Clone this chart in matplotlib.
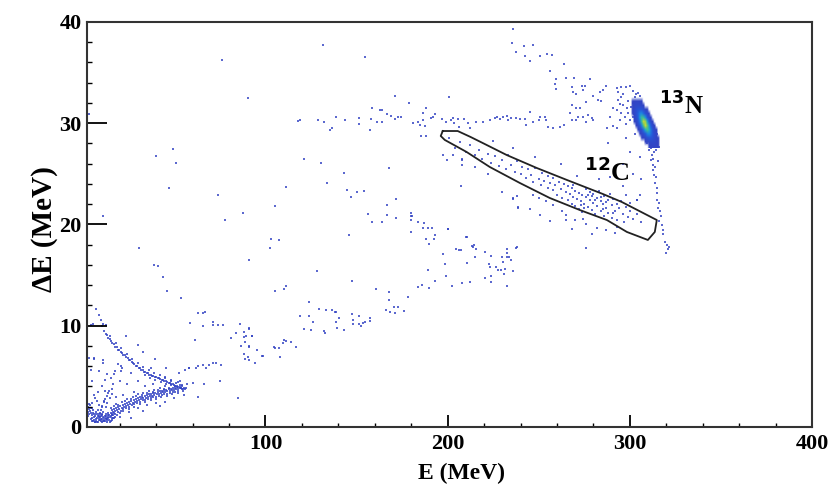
import numpy as np
import matplotlib
matplotlib.use('Agg')
import matplotlib.pyplot as plt
from matplotlib.colors import LinearSegmentedColormap
from matplotlib.ticker import MultipleLocator

plt.rcParams['font.family'] = ['Liberation Serif', 'DejaVu Serif']
plt.rcParams['font.weight'] = 'bold'

# ---- data: (E [MeV], dE [MeV]) ----

# dense low-energy cluster near the origin
low_cluster = [
    (3.5, 1.6), (4, 1.9), (4.5, 1.2), (5, 0.9), (5.5, 1.4), (6, 0.7), (6.5, 1.1), (7, 0.6),
    (7.5, 0.9), (8, 1.3), (8.5, 0.7), (9, 1.0), (9.5, 0.6), (10, 1.2), (10.5, 0.8), (11, 1.5),
    (11.5, 0.9), (12, 0.6), (12.5, 1.1), (13, 0.8), (13.5, 1.4), (14, 0.7), (14.5, 1.0), (15, 0.6),
    (3, 1.8), (3.2, 1.3), (4.2, 0.8), (5.2, 1.7), (6.2, 0.5), (7.2, 1.3), (8.2, 0.5), (9.2, 1.4),
    (10.2, 0.5), (11.2, 0.7), (12.2, 1.3), (13.2, 0.5), (14.2, 1.2), (15.5, 0.9), (16, 0.7),
    (16.5, 1.2), (17, 0.9), (6.8, 0.8), (7.8, 1.1), (8.8, 0.9), (9.8, 0.8), (10.8, 1.0),
    (11.8, 1.1), (12.8, 0.7), (13.8, 0.9), (5.8, 1.0), (4.8, 0.6), (2.5, 1.5), (2.5, 2.0),
    (3.5, 2.2), (4.5, 2.4), (9, 1.3), (9.8, 1.7), (10.5, 2.1), (11.2, 2.5), (12, 2.8),
    (12.8, 3.1), (13.5, 3.4), (14, 3.6), (10, 2.0), (11.6, 2.6),
    (5.5, 0.6), (6.5, 0.5), (7.5, 0.5), (8.5, 1.1), (9.5, 1.1), (10.5, 1.3), (11.5, 0.6),
    (12.5, 0.8), (13.5, 1.0), (14.5, 0.5), (15.5, 1.3), (16.5, 0.9), (17.5, 1.0), (18.5, 1.2),
    (7, 1.5), (8, 1.7), (6, 1.3), (5, 1.9), (4, 1.4), (3, 2.3), (2.6, 1.1), (9.3, 0.7),
    (10.7, 0.6), (12.3, 0.9), (13.7, 1.2), (15.2, 1.1), (16.8, 1.4), (8.7, 2.2), (7.6, 2.6),
    (6.6, 2.9), (12.4, 2.0), (13.2, 2.4), (14.6, 2.9), (15.6, 3.8), (16.4, 4.2), (11.9, 3.6),
]

# main low band (stopped particles)
low_band = [
    (15, 1.4), (15.6, 1.7), (16.2, 1.5), (16.8, 1.8), (17.4, 1.6), (18, 1.9), (18.6, 1.7),
    (19.2, 2.0), (19.8, 1.8), (20.4, 2.1), (21, 1.9), (21.6, 2.2), (22.2, 2.0), (22.8, 2.3),
    (23.4, 2.1), (24, 2.4), (24.6, 2.2), (25.2, 2.5), (25.8, 2.3), (26.4, 2.6), (27, 2.4),
    (27.6, 2.7), (28.2, 2.5), (28.8, 2.8), (29.4, 2.6), (30, 2.9), (30.6, 2.7), (31.2, 2.95),
    (31.8, 2.8), (32.4, 3.0), (33, 2.85), (33.6, 3.1), (34.2, 2.9), (34.8, 3.15), (35.4, 3.0),
    (36, 3.25), (36.6, 3.05), (37.2, 3.3), (37.8, 3.1), (38.4, 3.35), (39, 3.2), (39.6, 3.4),
    (40.2, 3.25), (40.8, 3.5), (41.4, 3.3), (42, 3.55), (42.6, 3.4), (43.2, 3.6), (43.8, 3.45),
    (44.4, 3.65), (45, 3.5), (45.6, 3.7), (46.2, 3.55), (46.8, 3.75), (47.4, 3.6), (48, 3.8),
    (48.6, 3.65), (49.2, 3.85), (49.8, 3.7), (50.4, 3.9), (51, 3.75), (51.6, 3.95), (52.2, 3.8),
    (52.8, 3.95), (53.4, 3.85), (54, 4.0), (54.6, 3.8), (55.2, 3.9), (55.8, 3.75),
    (16, 1.2), (17.5, 1.3), (19, 1.5), (20.5, 1.6), (22, 1.8), (23.5, 1.9), (25, 2.0),
    (26.5, 2.2), (28, 2.3), (29.5, 2.4), (31, 2.5), (32.5, 2.7), (34, 2.7), (35.5, 2.8),
    (37, 2.9), (38.5, 3.0), (40, 3.0), (41.5, 3.1), (43, 3.2), (44.5, 3.3), (46, 3.3),
    (47.5, 3.4), (49, 3.5), (50.5, 3.5), (52, 3.6), (18, 2.3), (21, 2.5), (24, 2.8), (27, 3.0),
    (30, 3.3), (33, 3.4), (36, 3.6), (39, 3.7), (42, 3.9), (45, 4.0), (48, 4.1),
    (15.3, 1.9), (17.1, 2.1), (18.9, 2.2), (20.1, 1.4), (21.9, 1.6), (23.1, 2.6), (24.9, 1.8),
    (26.1, 2.8), (27.9, 2.0), (29.1, 3.1), (30.9, 2.3), (32.1, 3.2), (33.9, 2.5), (35.1, 3.4),
    (36.9, 2.7), (38.1, 3.5), (39.9, 2.8), (41.1, 3.7), (42.9, 3.0), (44.1, 3.8), (45.9, 3.1),
    (47.1, 3.9), (48.9, 3.3), (50.1, 4.0), (51.9, 3.4), (53.1, 4.1), (54.9, 3.6), (56.4, 3.85),
]

# punch-through branch going up-left
punch_arm = [
    (11.5, 9.5), (12.3, 9.2), (13, 9.1), (13.8, 8.8), (14.5, 8.7), (15.3, 8.5), (16, 8.3),
    (16.8, 8.2), (17.5, 7.9), (18.3, 7.9), (19, 7.6), (19.8, 7.6), (20.5, 7.4), (21.3, 7.3),
    (22, 7.1), (22.8, 7.1), (23.5, 6.9), (24.3, 6.8), (25, 6.6), (25.8, 6.6), (26.5, 6.4),
    (27.3, 6.3), (28, 6.2), (28.8, 6.0), (29.5, 6.0), (30.3, 5.8), (31, 5.8), (31.8, 5.6),
    (32.5, 5.6), (33.3, 5.4), (34, 5.4), (34.8, 5.3), (35.5, 5.3), (36.3, 5.1), (37, 5.1),
    (37.8, 5.0), (38.5, 5.0), (39.3, 4.9), (40, 4.9), (40.8, 4.8), (41.5, 4.8), (42.3, 4.7),
    (43, 4.6), (43.8, 4.6), (44.5, 4.5), (45.3, 4.5), (46, 4.4), (46.8, 4.3), (47.5, 4.3),
    (48.3, 4.2), (49, 4.2), (49.8, 4.1), (50.5, 4.05), (51.3, 4.0), (52, 3.95), (52.8, 3.9),
    (53.5, 3.85), (54.3, 3.8), (7, 11.7), (8.8, 11.1), (9.5, 10.6), (4.3, 10.1), (12.5, 10.1),
    (5.5, 10.2), (11, 10.2), (10, 10.0),
    (14.9, 9.0), (17.9, 8.3), (20.9, 7.8), (23.9, 7.2), (26.9, 6.7), (29.9, 6.3), (32.9, 5.9),
    (35.9, 5.6), (38.9, 5.3), (41.9, 5.1), (44.9, 4.8), (47.9, 4.6), (50.9, 4.3), (53.9, 4.1),
    (33.6, 5.1), (36.6, 4.8), (39.6, 4.6), (42.6, 4.4), (45.6, 4.2),
]

# loose events around the low-energy structures
low_scatter = [
    (20, 1.0), (25, 1.5), (30, 1.9), (35, 2.2), (40, 2.4), (45, 2.5), (50, 2.9), (26, 0.9),
    (33, 1.6), (42, 2.1), (55, 3.2), (52, 4.4), (48, 4.5), (38, 4.2), (28, 3.5), (22, 3.2),
    (18, 3.0), (16, 3.3), (24, 4.2), (20, 4.5), (17, 5.2), (19, 6.2), (21, 5.8), (15, 4.8),
    (13, 5.2), (10, 4.0), (8, 3.5), (6, 3.2), (5, 4.5), (4, 5.6), (3, 6.8), (6, 6.7), (8.5, 5.5),
    (11, 6.3), (12, 4.6), (26, 5.3), (30, 4.5), (34, 4.0), (37, 5.8), (45, 4.9), (53, 4.5),
    (57, 4.2), (60, 4.3), (62, 5.8), (58, 5.8), (62.8, 3.0), (20.7, 6.0), (20.7, 5.5),
    (17.6, 5.5), (45.4, 5.8), (52.7, 5.3), (56.0, 5.6), (58.2, 5.8), (6.0, 6.8), (10.6, 6.6),
    (23.5, 9.0), (30.2, 8.1), (32.6, 7.4), (39.6, 6.7), (43.6, 14.8), (45.9, 13.4),
    (53.7, 12.7), (38.6, 16.0), (41.2, 15.9), (30.4, 17.7), (10.6, 20.8),
]

# sparse events in the middle of the plane
mid_scatter = [
    (58.6, 10.3), (61.4, 8.6), (62.8, 11.3), (65.9, 11.3), (66.9, 11.4), (65.9, 10.0),
    (71.0, 10.4), (71.0, 10.1), (74.2, 10.1), (76.5, 10.1), (62.8, 6.0), (65.5, 6.1),
    (67.4, 5.8), (69.2, 6.1), (71.0, 6.3), (72.9, 6.35), (75.7, 6.1), (75.1, 4.5), (66.1, 4.25),
    (84.8, 2.9), (81.2, 8.8), (83.9, 9.25), (86.1, 10.2), (88.0, 9.4), (89.4, 9.0), (88.3, 8.9),
    (88.5, 8.4), (86.7, 8.0), (90.7, 8.0), (90.7, 7.9), (90.8, 9.7), (92.5, 9.0), (88.1, 7.2),
    (88.5, 6.7), (90.5, 6.9), (91.2, 6.6), (95.2, 7.6), (97.9, 7.0), (98.5, 7.05), (94.3, 6.35),
    (91.2, 9.75), (92.7, 9.0), (104.4, 7.9), (105.1, 7.8), (107.3, 7.8), (109.5, 8.3),
    (107.7, 6.9), (111.4, 8.5), (114.1, 8.4), (116.5, 7.9), (110.3, 8.6), (105.3, 13.45),
    (109.9, 13.6), (111.4, 13.9), (102.2, 17.65), (107.3, 18.5), (103.1, 18.6), (105.3, 21.8),
    (78.0, 20.4), (87.5, 21.1), (90.7, 16.5), (111.0, 23.7), (47.3, 23.6), (73.8, 22.9),
    (39.9, 26.8), (49.1, 27.5), (50.9, 26.1), (76.2, 36.2), (90.3, 32.5), (3.0, 30.9),
    (118.1, 30.2), (121.4, 26.5), (130.6, 26.1), (143.0, 25.1), (133.7, 24.1),
    (123.8, 12.3), (129.5, 11.7), (136.3, 11.6), (138.8, 11.4), (140.3, 10.8), (138.5, 10.4),
    (119.1, 11.0), (126.0, 10.4), (121.1, 9.7), (125.1, 9.6), (131.9, 9.5), (132.6, 9.25),
    (139.2, 9.8), (142.9, 9.6), (147.6, 11.2), (148.0, 10.6), (148.0, 10.2), (151.6, 11.0),
    (151.3, 10.2), (152.6, 10.0), (153.5, 10.3), (154.4, 10.4), (157.1, 10.8), (157.5, 10.5),
    (128.4, 15.4), (145.8, 19.0), (147.4, 14.4), (123.8, 11.0), (133.4, 11.6), (137.9, 11.4),
    (160.4, 13.6), (167.7, 13.3), (167.7, 12.5), (166.3, 11.6), (168.1, 11.4), (170.3, 11.9),
    (172.7, 11.9), (170.9, 11.3), (175.8, 11.5), (178.4, 12.8), (183.9, 13.8), (186.1, 14.0),
    (189.7, 13.7), (189.4, 15.5), (193.2, 14.4), (199.3, 14.9), (202.6, 13.9), (208.1, 14.2),
    (212.5, 14.3), (210.8, 16.2), (198.5, 16.1), (197.4, 17.1), (204.8, 17.6), (206.2, 17.5),
    (207.1, 17.5), (213.4, 17.9), (214.3, 18.0), (215.8, 17.6), (214.8, 16.8), (220.3, 17.3),
    (224.0, 16.9), (222.7, 16.1), (223.5, 15.8), (226.8, 15.8), (227.6, 15.5), (229.5, 15.5),
    (230.4, 16.3), (230.1, 16.8), (232.3, 16.8), (233.7, 16.8), (235.0, 16.5), (232.3, 17.2),
    (232.3, 17.6), (231.7, 15.6), (235.9, 15.4), (230.9, 15.1), (224.0, 14.9), (220.3, 14.7),
    (224.0, 14.3), (232.3, 13.9), (238.1, 17.8), (235.9, 22.5), (238.5, 21.6),
    (171.8, 22.5), (166.5, 21.9), (166.9, 20.9), (164.1, 20.2), (171.8, 20.6), (180.1, 21.1),
    (179.7, 20.8), (180.4, 20.8), (179.8, 20.4), (183.7, 20.2), (186.4, 19.7), (189.2, 19.7),
    (191.6, 19.7), (187.0, 20.1), (193.2, 19.0), (192.3, 18.6), (187.9, 18.6), (189.6, 18.1),
    (179.7, 19.3), (200.4, 19.6), (210.4, 18.8), (144.9, 23.4), (150.4, 23.2), (153.8, 23.3),
    (146.7, 22.7), (156.2, 21.0), (158.6, 20.2), (167.7, 25.55), (185.5, 28.7), (187.9, 28.7),
    (202.9, 26.9), (207.9, 26.4), (207.9, 25.9), (207.5, 23.8), (197.4, 26.9), (199.6, 26.4),
    (200.2, 19.6), (210.3, 18.8), (250.5, 20.9), (256.0, 20.3), (265.2, 20.4), (274.3, 20.5),
    (292.7, 19.8), (276.2, 17.65), (237.7, 17.65), (213.9, 17.8),
]

# arc of events around dE ~ 30 MeV and above
upper_arc = [
    (118.7, 30.3), (128.7, 30.3), (131.9, 30.15), (135.2, 29.3), (136.4, 29.5), (138.8, 30.6),
    (143.4, 30.3), (151.6, 30.5), (151.6, 29.9), (157.1, 29.3), (158.6, 31.55), (158.0, 30.4),
    (161.2, 30.15), (162.6, 31.3), (164.1, 31.3), (164.1, 30.15), (166.7, 30.9), (169.1, 30.7),
    (170.9, 30.4), (172.7, 30.6), (174.6, 30.6), (170.9, 32.7), (178.6, 32.0), (180.9, 30.0),
    (183.7, 30.15), (184.6, 29.8), (186.4, 30.3), (187.4, 29.7), (186.4, 31.0), (187.9, 31.5),
    (191.0, 30.5), (191.9, 30.6), (192.9, 30.9), (197.1, 30.4), (199.3, 30.15), (200.7, 32.6),
    (202.0, 30.3), (203.3, 30.0), (202.9, 30.5), (205.7, 30.4), (206.2, 29.65), (208.8, 30.4),
    (211.2, 30.05), (212.1, 29.5), (215.8, 30.15), (219.4, 30.15), (223.1, 30.3), (225.8, 30.5),
    (227.1, 30.65), (228.6, 30.4), (230.4, 30.65), (232.3, 30.7), (233.1, 30.3), (235.0, 30.5),
    (237.4, 30.5), (239.6, 30.4), (242.3, 30.4), (243.2, 29.8), (245.1, 31.1), (246.9, 30.15),
    (250.2, 30.3), (250.9, 30.65), (253.3, 30.65), (253.8, 30.3), (255.1, 29.65), (257.9, 29.5),
    (261.5, 29.65), (263.7, 29.8), (267.0, 31.0), (268.0, 30.3), (270.7, 30.3), (271.6, 30.6),
    (274.3, 30.65), (276.2, 30.15), (277.1, 30.8), (279.0, 30.5), (279.8, 30.3), (268.5, 31.8),
    (270.3, 31.5), (272.5, 31.5), (276.2, 32.1), (131.5, 37.7), (154.4, 36.5),
    (235.9, 39.3), (235.5, 37.95), (241.8, 37.6), (246.9, 37.7), (237.4, 37.0), (242.3, 36.6),
    (245.1, 36.1), (250.5, 36.6), (254.6, 36.8), (257.0, 36.7), (263.7, 35.8), (256.0, 35.2),
    (259.7, 34.4), (258.8, 33.9), (259.7, 33.4), (264.7, 34.5), (269.2, 34.5), (278.0, 34.4),
    (268.0, 33.6), (268.9, 33.1), (270.7, 32.9), (273.5, 33.7), (275.3, 33.7), (274.3, 33.3),
    (279.8, 32.7), (282.6, 32.3), (284.4, 32.2), (283.5, 33.1), (285.3, 33.3), (286.8, 33.7),
    (292.7, 33.45), (295.4, 33.6), (297.8, 33.6), (300.0, 33.7), (301.8, 33.2), (293.6, 33.1),
    (295.4, 32.6), (293.6, 32.3), (294.5, 31.9), (296.3, 31.8), (298.2, 31.55), (292.7, 31.3),
    (290.8, 31.55), (294.9, 31.0), (297.3, 30.65), (299.1, 31.0), (300.0, 30.3), (301.8, 30.65),
    (289.0, 30.65), (294.5, 30.3), (290.8, 29.7), (287.5, 29.5), (292.7, 29.5), (296.5, 32.9),
    (299.0, 32.2), (298.0, 29.9), (302.5, 31.8), (288.1, 28.0), (305.5, 26.7), (300, 27.2),
    (296, 26.0), (302, 25.0), (292, 25.6), (306, 24.5), (298, 28.5), (303, 28.9),
]

# 12C band (inside and around the graphical cut)
c12_band = [
    (201, 28.5), (204, 27.6), (207, 28.1), (210, 27.2), (212, 27.8), (215, 26.9), (217, 27.4),
    (219, 26.5), (222, 27.0), (224, 26.1), (226, 26.8), (228, 25.8), (230, 26.4), (232, 25.5),
    (233, 26.9), (235, 25.9), (237, 25.2), (238, 26.3), (240, 25.0), (241, 25.7), (243, 24.6),
    (244, 25.5), (246, 24.9), (247, 24.2), (248, 25.6), (250, 24.5), (251, 23.9), (252, 25.1),
    (253, 24.3), (255, 23.6), (255, 24.8), (256, 24.1), (258, 23.4), (258, 24.6), (259, 23.9),
    (260, 22.9), (261, 24.2), (262, 23.5), (263, 22.6), (264, 24.0), (265, 23.2), (266, 22.4),
    (266, 23.8), (267, 23.0), (268, 22.0), (268, 23.6), (269, 22.7), (270, 23.3), (270, 21.8),
    (271, 22.5), (272, 23.1), (272, 21.5), (273, 22.3), (274, 22.9), (274, 21.2), (275, 22.0),
    (276, 22.7), (276, 23.5), (277, 21.7), (278, 22.4), (278, 23.2), (279, 21.4), (280, 22.1),
    (280, 23.0), (281, 21.0), (282, 22.6), (282, 21.8), (283, 23.3), (284, 22.3), (284, 21.3),
    (285, 22.0), (286, 22.8), (286, 20.8), (287, 21.6), (288, 22.4), (288, 21.1), (289, 23.0),
    (290, 21.9), (290, 20.6), (291, 22.5), (292, 21.3), (293, 22.0), (293, 20.4), (294, 21.6),
    (295, 22.3), (296, 21.0), (297, 20.2), (298, 21.7), (299, 20.7), (300, 21.3), (302, 20.5),
    (304, 21.0), (306, 20.2), (263, 21.3), (258, 21.9), (254, 22.3), (250, 22.6), (247, 22.9),
    (270, 20.4), (276, 20.0), (282, 19.7), (287, 19.5), (292, 19.2), (265, 20.9), (268, 19.6),
    (279, 19.1), (245, 21.5), (238, 22.8), (230, 23.2), (222, 25.0), (215, 25.7), (208, 26.5),
    (225, 28.2), (236, 27.6), (248, 26.7), (262, 26.0), (271, 24.8), (283, 24.5), (296, 23.8),
    (289, 24.7), (298, 22.9), (304, 22.4), (303.7, 22.4), (305.5, 22.9), (300.0, 22.1),
    (235.9, 22.6), (238.6, 21.7), (277, 22.9), (281, 22.4), (285, 21.5), (279, 22.8),
    (287, 22.2), (273, 21.9), (269, 23.9), (291, 21.1), (284, 22.7), (275, 21.6),
]

# tail below the 13N spot and its loose fringe
n13_tail = [
    (310.6, 27.36), (311.9, 26.86), (311.4, 26.4), (312.8, 26.5), (312.5, 25.9), (313.7, 25.7),
    (312.8, 25.4), (313.2, 24.9), (314.3, 24.7), (313.7, 24.1), (314.7, 23.6), (315.0, 23.1),
    (314.7, 22.4), (316.1, 22.1), (315.6, 21.6), (316.5, 21.3), (316.9, 20.8), (316.1, 20.3),
    (317.4, 19.95), (318.0, 19.5), (318.3, 19.1), (319.2, 18.3), (320.2, 18.0), (321.1, 17.55),
    (319.8, 17.15), (321.6, 17.8), (309.5, 28.0), (313.0, 27.2), (315.5, 26.3),
    (303.0, 32.6), (301.8, 32.0), (302.5, 31.2), (304.5, 33.0), (300.8, 31.6), (313.5, 28.2),
    (314.8, 28.9), (312.5, 29.8), (315.8, 27.7), (303.6, 30.4), (304.8, 29.8), (303.2, 32.9),
    (305.6, 32.7), (302.1, 30.9), (311.8, 27.6), (314.2, 27.4),
]

# 13N spot as a 2D count histogram (1 MeV x 0.4 MeV bins)
n13_extent = (299.0, 318.0, 27.6, 32.8)
n13_counts = [  # rows from dE = 27.8 (bottom) to 32.6 (top)
    [0, 0, 0, 0, 0, 0, 0, 0, 0, 0, 0, 1, 1, 2, 2, 1, 1, 0, 0],
    [0, 0, 0, 0, 0, 0, 0, 0, 0, 1, 2, 4, 5, 5, 4, 2, 1, 0, 0],
    [0, 0, 0, 0, 0, 0, 0, 1, 2, 4, 8, 12, 12, 9, 5, 2, 1, 0, 0],
    [0, 0, 0, 0, 0, 0, 1, 3, 7, 15, 22, 24, 19, 11, 5, 2, 0, 0, 0],
    [0, 0, 0, 0, 0, 1, 3, 9, 20, 32, 37, 32, 20, 9, 3, 1, 0, 0, 0],
    [0, 0, 0, 0, 1, 4, 11, 24, 39, 46, 40, 26, 13, 4, 1, 0, 0, 0, 0],
    [0, 0, 0, 1, 3, 9, 21, 37, 46, 43, 29, 14, 5, 2, 0, 0, 0, 0, 0],
    [0, 0, 0, 2, 6, 15, 28, 36, 35, 25, 13, 5, 1, 0, 0, 0, 0, 0, 0],
    [0, 0, 1, 3, 8, 16, 23, 24, 17, 9, 4, 1, 0, 0, 0, 0, 0, 0, 0],
    [0, 0, 1, 4, 8, 11, 12, 10, 6, 3, 1, 0, 0, 0, 0, 0, 0, 0, 0],
    [0, 0, 1, 3, 4, 5, 4, 3, 1, 0, 0, 0, 0, 0, 0, 0, 0, 0, 0],
    [0, 0, 1, 1, 2, 2, 1, 1, 0, 0, 0, 0, 0, 0, 0, 0, 0, 0, 0],
    [0, 0, 0, 0, 0, 0, 0, 0, 0, 0, 0, 0, 0, 0, 0, 0, 0, 0, 0],
]

# graphical cut around 12C
cut_e = [197.3, 205.5, 212.6, 219.2, 232.4, 248.9, 265.4, 285.2, 295.6, 314.8, 313.7,
         309.9, 298.4, 287.4, 272.5, 256.0, 239.6, 223.1, 210.4, 198.4, 196.2, 197.3]
cut_de = [29.23, 29.23, 28.64, 28.05, 26.86, 25.58, 24.40, 23.01, 22.22, 20.44, 19.26,
          18.47, 19.26, 20.44, 21.43, 22.62, 24.10, 25.68, 27.16, 28.35, 28.74, 29.23]

x_ticks = [100, 200, 300, 400]
y_ticks = [0, 10, 20, 30, 40]

# ---- figure ----
fig = plt.figure(figsize=(8.33, 4.88), dpi=100)
ax = fig.add_axes([0.1044, 0.125, 0.8704, 0.830])

dot_color = '#3344c4'
for group in [low_cluster, low_band, punch_arm, low_scatter, mid_scatter,
              upper_arc, c12_band, n13_tail]:
    e, de = zip(*group)
    ax.scatter(e, de, marker='s', s=2.8, color=dot_color, linewidths=0, alpha=0.8)

# colour the spot like a COLZ palette, fade out where there are no counts
cmap = LinearSegmentedColormap.from_list(
    'spot', [(0.0, '#3344c4'), (0.3, '#2458dc'), (0.5, '#1d86e0'),
             (0.68, '#1cb0c8'), (0.84, '#52c47a'), (1.0, '#c6d834')])
counts = np.array(n13_counts, dtype=float)
rgba = cmap(np.clip((counts - 1) / 45.0, 0, 1))
rgba[..., 3] = np.clip(counts, 0, 1)
ax.imshow(rgba, origin='lower', extent=n13_extent, aspect='auto',
          interpolation='bilinear', zorder=3)

ax.plot(cut_e, cut_de, color='#222222', lw=1.3, zorder=4)

ax.text(287.5, 25.2, r'$\mathbf{^{12}}$C', fontsize=19, fontweight='bold',
        ha='center', va='center')
ax.text(328.5, 31.7, r'$\mathbf{^{13}}$N', fontsize=18, fontweight='bold',
        ha='center', va='center')

ax.set_xlim(2, 400)
ax.set_ylim(0, 40)
ax.set_xticks(x_ticks)
ax.set_yticks(y_ticks)
ax.xaxis.set_minor_locator(MultipleLocator(20))
ax.yaxis.set_minor_locator(MultipleLocator(2))
ax.tick_params(axis='x', which='major', direction='in', length=8.6, width=1.3,
               labelsize=16, pad=5)
ax.tick_params(axis='x', which='minor', direction='in', length=3, width=1.0)
ax.tick_params(axis='y', which='major', direction='in', length=14.5, width=1.3,
               labelsize=16, pad=4)
ax.tick_params(axis='y', which='minor', direction='in', length=3.8, width=1.0)
for lab in ax.get_xticklabels() + ax.get_yticklabels():
    lab.set_fontweight('bold')
for sp in ax.spines.values():
    sp.set_linewidth(1.5)
    sp.set_color('#333333')

ax.set_xlabel('E (MeV)', fontsize=17, fontweight='bold')
ax.xaxis.set_label_coords(0.517, -0.089)
ax.xaxis.label.set_va('top')
ax.set_ylabel('ΔE (MeV)', fontsize=21, fontweight='bold')
ax.yaxis.set_label_coords(-0.04, 0.489)

fig.savefig('out.png', dpi=100)
plt.close(fig)
